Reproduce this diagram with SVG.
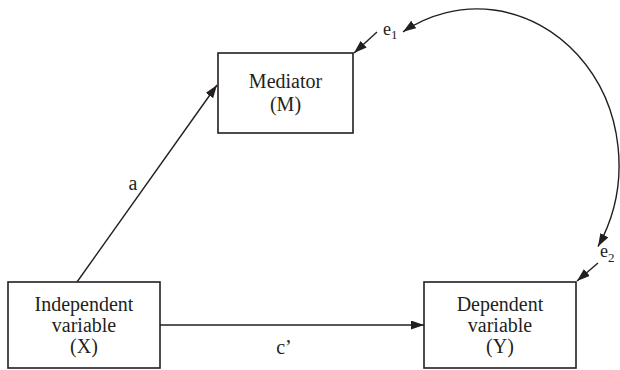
<svg xmlns="http://www.w3.org/2000/svg" width="620" height="370" viewBox="0 0 620 370">
  <style>
    text { font-family: 'Liberation Serif', 'DejaVu Serif', serif; fill: #231f20; }
    .box { fill: #ffffff; stroke: #231f20; stroke-width: 1.6; }
    .lbl { font-size: 20px; text-anchor: middle; }
    .err { font-size: 18px; }
    .sub { font-size: 13px; }
    .edge { fill: none; stroke: #231f20; stroke-width: 1.4; }
  </style>
  <defs>
    <marker id="arr" markerUnits="userSpaceOnUse" markerWidth="14" markerHeight="10" refX="13" refY="4.5" orient="auto-start-reverse" viewBox="0 0 14 10">
      <path d="M0,0 L13,4.5 L0,9 z" fill="#231f20"/>
    </marker>
  </defs>

  <g id="connectors">
    <line class="edge" x1="77" y1="282" x2="217" y2="85" marker-end="url(#arr)"/>
    <line class="edge" x1="160" y1="325" x2="424" y2="325" marker-end="url(#arr)"/>
    <line class="edge" x1="377" y1="32" x2="354" y2="53" marker-end="url(#arr)"/>
    <line class="edge" x1="598" y1="263" x2="577" y2="281" marker-end="url(#arr)"/>
    <path class="edge" d="M 403,31.8 A 142 156 0 0 1 598,246.6" marker-start="url(#arr)" marker-end="url(#arr)"/>
    <text class="lbl" x="133" y="190">a</text>
    <text class="lbl" x="284" y="354">c’</text>
  </g>

  <g id="mediator">
    <rect class="box" x="218" y="53" width="135" height="80"/>
    <text class="lbl" x="285.5" y="88">Mediator</text>
    <text class="lbl" x="285.5" y="111">(M)</text>
  </g>

  <g id="independent">
    <rect class="box" x="8" y="282" width="152" height="86"/>
    <text class="lbl" x="84" y="311">Independent</text>
    <text class="lbl" x="84" y="332">variable</text>
    <text class="lbl" x="84" y="353">(X)</text>
  </g>

  <g id="dependent">
    <rect class="box" x="424" y="282" width="152" height="86"/>
    <text class="lbl" x="500" y="311">Dependent</text>
    <text class="lbl" x="500" y="332">variable</text>
    <text class="lbl" x="500" y="353">(Y)</text>
  </g>

  <g id="e1">
    <text class="err" x="383" y="35">e<tspan class="sub" dy="4">1</tspan></text>
  </g>

  <g id="e2">
    <text class="err" x="600" y="257">e<tspan class="sub" dy="5">2</tspan></text>
  </g>
</svg>
